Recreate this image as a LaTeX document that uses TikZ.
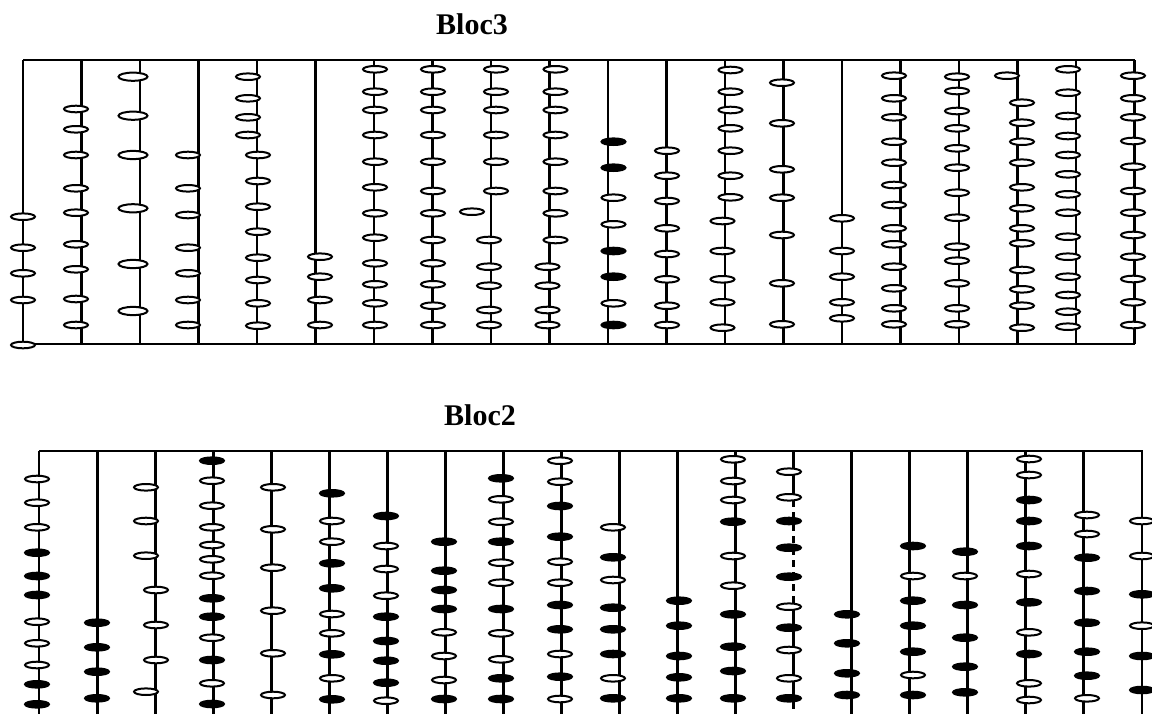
\documentclass[tikz,border=0pt]{standalone}
\usepackage{fontspec}
\setmainfont{Liberation Serif}
\colorlet{bw}{white}
\colorlet{bk}{black}
\tikzset{
  rod/.style={line width=2.9pt},
  rail/.style={line width=2.2pt},
  bead/.style={draw=black, line width=2pt, fill=white},
  title/.style={font=\bfseries\fontsize{30}{36}\selectfont, inner sep=0pt}
}
\def\brx{12pt}
\def\bry{3.3pt}
% one column of beads: #1 = x of the bead centres, #2 = list of y/fill
\newcommand\beadcol[2]{%
  \foreach \yy/\ff in {#2}{\draw[bead,fill=\ff] (#1,\yy) ellipse [x radius=\brx, y radius=\bry];}}
\begin{document}
\begin{tikzpicture}[x=1pt,y=-1pt]
\useasboundingbox (0,0) rectangle (1152,713);

% ---------------- Bloc3 ----------------
\node[title] (t3) at (472,24) {Bloc3};
\draw[rail] (23,60) -- (1135,60);
\draw[rail] (23,344) -- (1135,344);
\foreach \k in {0,...,19}{\draw[rod] ({23+58.5*\k},60) -- ({23+58.5*\k},344);}

\beadcol{23}{216.7/bw,247.7/bw,273.3/bw,300/bw,345/bw}
\beadcol{76}{109/bw,129.3/bw,155/bw,188.3/bw,212.7/bw,244.3/bw,269.3/bw,299/bw,325/bw}
\begingroup\def\brx{14.5pt}\def\bry{4.1pt}
\beadcol{133}{76.7/bw,115.7/bw,155/bw,208.3/bw,264/bw,311/bw}
\endgroup
\beadcol{188}{155/bw,188.3/bw,215/bw,247.7/bw,273.3/bw,300/bw,325/bw}
\beadcol{248}{76.7/bw,98.3/bw,117.3/bw,135/bw}
\beadcol{258}{155/bw,181/bw,206.7/bw,231.7/bw,257.7/bw,280/bw,303.3/bw,325.7/bw}
\beadcol{320}{256.7/bw,276.7/bw,300/bw,325/bw}
\beadcol{375}{69.3/bw,91.7/bw,110/bw,135/bw,161.7/bw,187.3/bw,213.3/bw,237.7/bw,263.3/bw,284.3/bw,303.3/bw,325/bw}
\beadcol{433}{69.3/bw,91.7/bw,110/bw,135/bw,161.7/bw,191/bw,213.3/bw,240/bw,263.3/bw,284.3/bw,305.7/bw,325/bw}
\beadcol{496}{69.3/bw,91.7/bw,110/bw,135/bw,161.7/bw,191/bw}
\beadcol{489}{240/bw,266.7/bw,285.7/bw,310/bw,325/bw}
\beadcol{472}{211.7/bw}
\beadcol{555.5}{69.3/bw,91.7/bw,110/bw,135/bw,161.7/bw,191/bw,213.3/bw,240/bw}
\beadcol{547.5}{266.7/bw,285.7/bw,310/bw,325/bw}
\beadcol{613.5}{141.7/bk,167.7/bk,197.7/bw,224.3/bw,251/bk,276.7/bk,303.3/bw,325/bk}
\beadcol{667}{150.7/bw,175.7/bw,201/bw,228.3/bw,254/bw,279.3/bw,305.7/bw,325/bw}
\beadcol{730.5}{70/bw,91.7/bw,110/bw,128.3/bw,150.7/bw,175.7/bw,197.3/bw}
\beadcol{722.5}{221/bw,251/bw,279.3/bw,302.3/bw,327.7/bw}
\beadcol{782}{82.7/bw,123.3/bw,169.3/bw,197.7/bw,235/bw,283.3/bw,324.3/bw}
\beadcol{842}{218.3/bw,251/bw,276.7/bw,302.3/bw,318.3/bw}
\beadcol{894}{75.7/bw,98.3/bw,117.3/bw,141.7/bw,162.7/bw,185/bw,205/bw,228.3/bw,244.3/bw,266.7/bw,288.3/bw,308.3/bw,324.3/bw}
\beadcol{957}{76.7/bw,91/bw,111/bw,128.3/bw,148.3/bw,167.7/bw,192.7/bw,217.7/bw,246.7/bw,260.7/bw,283.3/bw,308.3/bw,324.3/bw}
\beadcol{1007}{75.7/bw}
\beadcol{1022}{102.7/bw,122.7/bw,141.7/bw,162.7/bw,187.3/bw,208.3/bw,228.3/bw,243.3/bw,270/bw,289.3/bw,305.7/bw,327.7/bw}
\beadcol{1068}{69.3/bw,92.7/bw,116/bw,136/bw,155/bw,174.3/bw,194.3/bw,212.7/bw,236.7/bw,256.7/bw,276.7/bw,295/bw,311.7/bw,326.7/bw}
\beadcol{1133}{75.7/bw,98.3/bw,117.3/bw,141/bw,166.7/bw,191/bw,212.7/bw,235/bw,256.7/bw,279/bw,302.3/bw,325/bw}

% ---------------- Bloc2 ----------------
\node[title] (t2) at (480,415) {Bloc2};
\draw[rail] (39,451) -- (1143,451);
\foreach \k in {0,...,19}{%
  \ifnum\k=13\else\draw[rod] ({39+58.05*\k},451) -- ({39+58.05*\k},720);\fi}
% broken rod
\draw[rod] (793.6,451) -- (793.6,500);
\draw[rod,dash pattern=on 7pt off 5pt] (793.6,500) -- (793.6,596);
\draw[rod] (793.6,596) -- (793.6,690);
\draw[rod,dash pattern=on 7pt off 5pt] (793.6,690) -- (793.6,720);

\beadcol{37}{479/bw,502.7/bw,527.3/bw,552.7/bk,576/bk,595/bk,621.7/bw,643.3/bw,665/bw,684.3/bk,704.3/bk}
\beadcol{97}{622.7/bk,647.3/bk,671.7/bk,698.3/bk}
\beadcol{146}{487.3/bw,521/bw,555.7/bw,691.7/bw}
\beadcol{156}{590/bw,625/bw,660/bw}
\beadcol{212}{460.7/bk,480.7/bw,505.7/bw,527.3/bw,545/bw,559.3/bw,575.7/bw,598.3/bk,616.7/bk,637.7/bw,660/bk,683.3/bw,704/bk}
\beadcol{273}{487.3/bw,529.3/bw,567.7/bw,610.7/bw,653.3/bw,695/bw}
\beadcol{332}{493.3/bk,521/bw,541.7/bw,563.3/bk,588.3/bk,614/bw,633.3/bw,654.3/bk,678.3/bw,699.3/bk}
\beadcol{386}{516/bk,546/bw,569/bw,595.7/bw,616.7/bk,641/bk,660.7/bk,682.7/bk,700.7/bw}
\beadcol{444}{541.7/bk,570.7/bk,590/bk,609/bk,632.3/bw,656/bw,680/bw,699/bk}
\beadcol{501}{478.3/bk,499.3/bw,521.7/bw,541.7/bk,562.7/bw,582.7/bw,609/bk,633.3/bw,659.3/bw,678.3/bk,699/bk}
\beadcol{560}{460.7/bw,481.7/bw,506/bk,536.7/bk,561.7/bw,582.7/bw,605/bk,629.3/bk,654/bw,676.7/bk,699/bw}
\beadcol{613}{527.3/bw,557.3/bk,580/bw,607.7/bk,629.3/bk,654/bk,678.3/bw,698.3/bk}
\beadcol{679}{600.7/bk,625.7/bk,656/bk,677.3/bk,698.3/bk}
\beadcol{733}{459.3/bw,481/bw,500/bw,521.7/bk,556/bw,585.7/bw,614.3/bk,646.7/bk,671/bk,698.3/bk}
\beadcol{789}{471.7/bw,497.3/bw,521/bk,547.7/bk,576.7/bk,606.7/bw,627.7/bk,650/bw,678.3/bw,698.3/bk}
\beadcol{847}{614.3/bk,643.3/bk,673.3/bk,695/bk}
\beadcol{913}{546/bk,576/bw,600.7/bk,625.7/bk,651.7/bk,675/bw,695/bk}
\beadcol{965}{551.7/bk,576/bw,605/bk,637.7/bk,666.7/bk,692.3/bk}
\beadcol{1029}{459/bw,475/bw,500/bk,521/bk,546/bk,574/bw,602.3/bk,632.3/bw,654/bk,683.3/bw,700/bw}
\beadcol{1087}{515/bw,534/bw,557.7/bk,591/bk,622.7/bk,651.7/bk,675.7/bk,698.3/bw}
\beadcol{1142}{521/bw,556/bw,594.3/bk,625.7/bw,656/bk,690/bk}
\end{tikzpicture}
\end{document}
